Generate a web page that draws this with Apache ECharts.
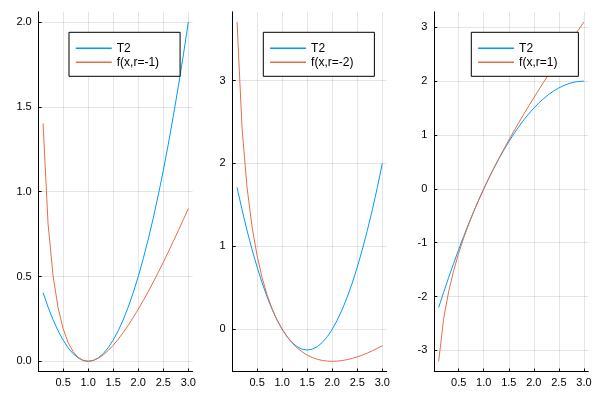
<!DOCTYPE html>
<html>
<head>
<meta charset="utf-8">
<script src="https://cdn.jsdelivr.net/npm/echarts@6/dist/echarts.min.js"></script>
<style>html,body{margin:0;padding:0;background:#fff}#c{width:600px;height:400px}</style>
</head>
<body>
<div id="c"></div>
<script>
const xs = [0.1,0.2,0.3,0.4,0.5,0.6,0.7,0.8,0.9,1.0,1.1,1.2,1.3,1.4,1.5,1.6,1.7,1.8,1.9,2.0,2.1,2.2,2.3,2.4,2.5,2.6,2.7,2.8,2.9,3.0];

const t2_a = [0.405,0.32,0.245,0.18,0.125,0.08,0.045,0.02,0.005,0,0.005,0.02,0.045,0.08,0.125,0.18,0.245,0.32,0.405,0.5,0.605,0.72,0.845,0.98,1.125,1.28,1.445,1.62,1.805,2.0];
const f_a = [1.4026,0.8094,0.5040,0.3163,0.1931,0.1108,0.0567,0.0231,0.0054,0,0.0047,0.0177,0.0376,0.0635,0.0945,0.1300,0.1694,0.2122,0.2581,0.3069,0.3581,0.4115,0.4671,0.5245,0.5837,0.6445,0.7067,0.7704,0.8353,0.9014];

const t2_b = [1.71,1.44,1.19,0.96,0.75,0.56,0.39,0.24,0.11,0,-0.09,-0.16,-0.21,-0.24,-0.25,-0.24,-0.21,-0.16,-0.09,0,0.11,0.24,0.39,0.56,0.75,0.96,1.19,1.44,1.71,2.0];
const f_b = [3.7052,2.4189,1.7079,1.2326,0.8863,0.6217,0.4133,0.2463,0.1107,0,-0.0906,-0.1646,-0.2247,-0.2729,-0.3109,-0.3400,-0.3613,-0.3756,-0.3837,-0.3863,-0.3839,-0.3769,-0.3658,-0.3509,-0.3326,-0.3110,-0.2865,-0.2592,-0.2294,-0.1972];

const t2_c = [-2.205,-1.92,-1.645,-1.38,-1.125,-0.88,-0.645,-0.42,-0.205,0,0.195,0.38,0.555,0.72,0.875,1.02,1.155,1.28,1.395,1.5,1.595,1.68,1.755,1.82,1.875,1.92,1.955,1.98,1.995,2.0];
const f_c = [-3.2026,-2.4094,-1.9040,-1.5163,-1.1931,-0.9108,-0.6567,-0.4231,-0.2054,0,0.1953,0.3823,0.5624,0.7365,0.9055,1.0700,1.2306,1.3878,1.5419,1.6931,1.8419,1.9885,2.1329,2.2755,2.4163,2.5555,2.6933,2.8296,2.9647,3.0986];

const names = ['T2','f(x,r=-1)','f(x,r=-2)','f(x,r=1)'];
const xTicks = [0.5,1.0,1.5,2.0,2.5,3.0];
const yTicksA = [0,0.5,1.0,1.5,2.0];
const yTicksB = [0,1,2,3];
const yTicksC = [-3,-2,-1,0,1,2,3];

const BLUE = '#009AFA', ORANGE = '#E36F47';
const FONT = 'Liberation Sans';

function pair(a, b) { return a.map((v, i) => [v, b[i]]); }

const panels = [
  {left: 38.7, yMin: -0.06, yMax: 2.06, ticks: yTicksA, dec: 1, t2: t2_a, f: f_a, fname: names[1], legLeft: 69},
  {left: 232.7, yMin: -0.509, yMax: 3.828, ticks: yTicksB, dec: 0, t2: t2_b, f: f_b, fname: names[2], legLeft: 263.3},
  {left: 434.3, yMin: -3.392, yMax: 3.288, ticks: yTicksC, dec: 0, t2: t2_c, f: f_c, fname: names[3], legLeft: 471.3}
];

const grid = [], xAxis = [], yAxis = [], series = [], legend = [];
panels.forEach((p, i) => {
  grid.push({left: p.left, top: 11.8, width: 154, height: 359.7, containLabel: false});
  const common = {
    axisLine: {show: true, onZero: false, lineStyle: {color: '#000', width: 1}},
    axisTick: {show: true, inside: true, length: 3, lineStyle: {color: '#000'}},
    splitLine: {show: true, lineStyle: {color: 'rgba(0,0,0,0.1)', width: 1}},
    axisLabel: {color: '#000', fontSize: 11, fontFamily: FONT}
  };
  xAxis.push(Object.assign({}, common, {
    type: 'value', gridIndex: i, min: 0.013, max: 3.087,
    axisTick: Object.assign({}, common.axisTick, {customValues: xTicks}),
    axisLabel: Object.assign({}, common.axisLabel, {customValues: xTicks, margin: 6, formatter: v => v.toFixed(1)})
  }));
  yAxis.push(Object.assign({}, common, {
    type: 'value', gridIndex: i, min: p.yMin, max: p.yMax,
    axisTick: Object.assign({}, common.axisTick, {customValues: p.ticks}),
    axisLabel: Object.assign({}, common.axisLabel, {customValues: p.ticks, margin: 7, formatter: v => v.toFixed(p.dec)})
  }));
  series.push({name: names[0], type: 'line', xAxisIndex: i, yAxisIndex: i, data: pair(xs, p.t2),
    symbol: 'none', lineStyle: {color: BLUE, width: 1}, itemStyle: {color: BLUE}, animation: false});
  series.push({name: p.fname, type: 'line', xAxisIndex: i, yAxisIndex: i, data: pair(xs, p.f),
    symbol: 'none', lineStyle: {color: ORANGE, width: 1}, itemStyle: {color: ORANGE}, animation: false});
  legend.push({
    data: [names[0], p.fname], orient: 'vertical', left: p.legLeft, top: 32.3,
    padding: [10, 21, 8, 6], itemGap: 2, itemWidth: 36, itemHeight: 11,
    itemStyle: {opacity: 0},
    lineStyle: {width: 1.5},
    borderColor: '#000', borderWidth: 1, backgroundColor: '#fff',
    textStyle: {color: '#000', fontSize: 12, fontFamily: FONT}
  });
});

const chart = echarts.init(document.getElementById('c'), null, {renderer: 'canvas'});
chart.setOption({animation: false, grid, xAxis, yAxis, series, legend});
</script>
</body>
</html>
